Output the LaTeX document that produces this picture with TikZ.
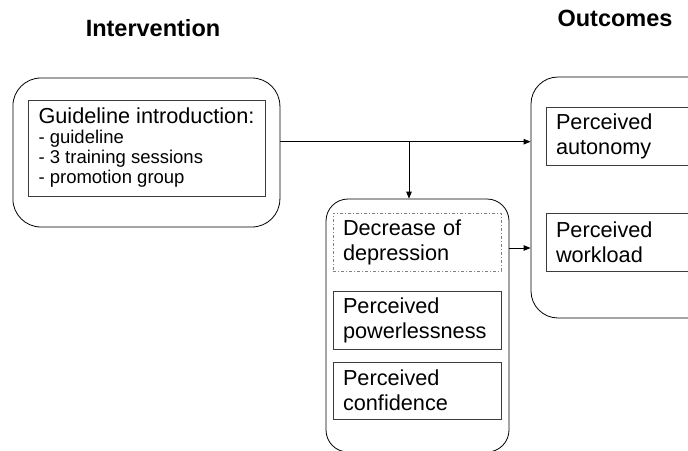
\documentclass[tikz,border=0pt]{standalone}
\usepackage{fontspec}
\setmainfont{Liberation Sans}
\usepackage{tikz}
\usetikzlibrary{arrows.meta, positioning, calc}
\definecolor{boxline}{RGB}{60, 60, 60}

\tikzset{
    group/.style={draw=black, line width=0.8pt, rounded corners=#1},
    item/.style={draw=boxline, line width=0.8pt, minimum height=58pt, inner xsep=10pt,
        align=left, font=\fontsize{21.7}{25}\selectfont},
    maybe/.style={item, draw=gray, dash pattern=on 3pt off 2pt on 1pt off 2pt},
    title/.style={font=\fontsize{23.5}{26}\selectfont\bfseries, anchor=base},
    link/.style={line width=0.9pt, -{Triangle[length=7pt, width=5.5pt]}}
}

\begin{document}
\begin{tikzpicture}[x=1pt, y=-1pt]
\useasboundingbox (0,0) rectangle (688,450);
\clip (0,0) rectangle (688,450);

% headings
\node[title] (hint) at (153,36) {Intervention};
\node[title] (hout) at (615,26) {Outcomes};

% intervention
\node[group=28pt, minimum width=267pt, minimum height=149pt] (lout) at (146.4,152.5) {};
\node[draw=boxline, line width=0.8pt, minimum width=237pt, minimum height=96pt, align=left,
    font=\fontsize{18.5}{20}\selectfont] (guide) at (146.5,148) {
    {\fontsize{21.7}{25}\selectfont Guideline introduction:}\\
    - guideline\\
    - 3 training sessions\\
    - promotion group
};

% mediators
\node[group=22pt, minimum width=183pt, minimum height=253pt] (mid) at (417.5,325.5) {};
\node[maybe, minimum width=168pt, text width=148pt] (depr) at (417,242) {Decrease of\\depression};
\node[item, minimum width=168pt, text width=148pt] (power) at (417,320) {Perceived\\powerlessness};
\node[item, minimum width=168pt, text width=148pt, minimum height=57pt] (conf) at (417,390.5) {Perceived\\confidence};

% outcomes
\node[group=27pt, minimum width=189pt, minimum height=241pt] (rout) at (625.5,197.5) {};
\node[item, minimum width=154pt, text width=134pt] (auto) at (623,136) {Perceived\\autonomy};
\node[item, minimum width=154pt, text width=134pt] (work) at (623,242) {Perceived\\workload};

% connectors
\coordinate (split) at (409,141.7);
\coordinate (lvl2) at (520,248);
\draw[link] (lout.east |- split) -- (rout.west |- split);
\draw[link] (split) -- (split |- mid.north);
\draw[link] (mid.east |- lvl2) -- (rout.west |- lvl2);
\end{tikzpicture}
\end{document}
